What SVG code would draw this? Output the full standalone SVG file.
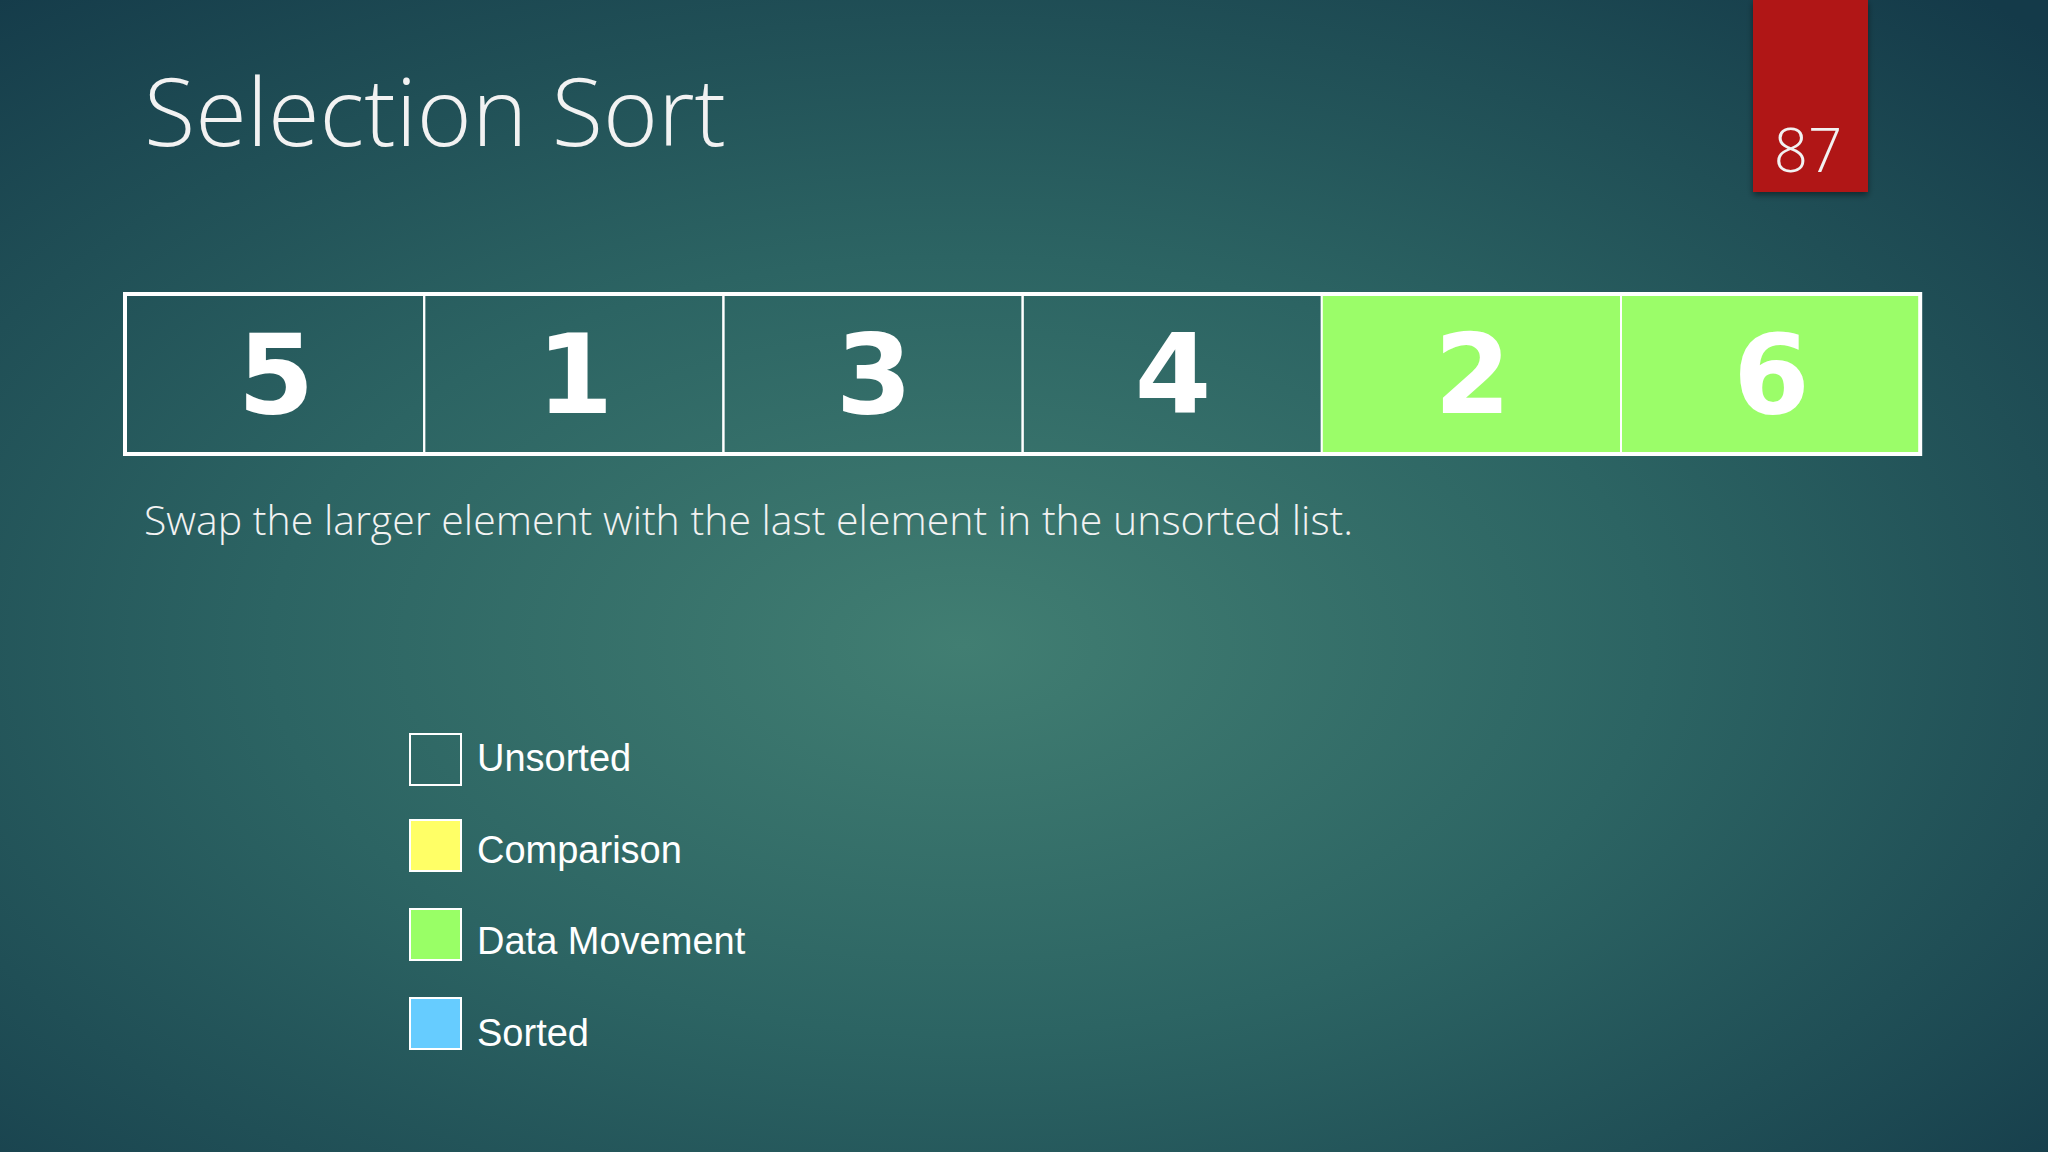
<svg xmlns="http://www.w3.org/2000/svg" width="2048" height="1152" viewBox="0 0 2048 1152">
  <defs>
    <radialGradient id="bg" cx="0.47" cy="0.56" r="0.75" fx="0.47" fy="0.56">
      <stop offset="0" stop-color="#417E72"/>
      <stop offset="0.45" stop-color="#2C6463"/>
      <stop offset="1" stop-color="#143A49"/>
    </radialGradient>
    <filter id="sh" x="-20%" y="-20%" width="140%" height="140%">
      <feDropShadow dx="0" dy="3" stdDeviation="3" flood-color="#000" flood-opacity="0.45"/>
    </filter>
    <style>
      .title { font-family: "Open Sans", "Liberation Sans", sans-serif; font-weight: 300; fill: #F2F2F2; }
      .num { font-family: "DejaVu Sans", "Liberation Sans", sans-serif; font-weight: bold; font-size: 110px; fill: #FFFFFF; text-anchor: middle; }
      .cell { stroke: #FFFFFF; stroke-width: 2; }
      .leg { font-family: "Liberation Sans", Arial, sans-serif; font-size: 38px; fill: #FFFFFF; }
      .lbox { stroke: #FFFFFF; stroke-width: 2; }
    </style>
  </defs>
  <rect x="0" y="0" width="2048" height="1152" fill="url(#bg)"/>

  <g id="title">
    <text class="title" x="144" y="146" font-size="94" textLength="582" lengthAdjust="spacingAndGlyphs">Selection Sort</text>
  </g>

  <g id="slide-number">
    <rect x="1753" y="0" width="115" height="192" fill="#B01616" filter="url(#sh)"/>
    <text class="title" x="1808" y="172" font-size="60" text-anchor="middle" fill="#FFFFFF">87</text>
  </g>

  <g id="array">
    <g id="cell-0"><rect class="cell" x="125" y="294" width="299.2" height="160" fill="none"/><text class="num" x="276" y="413">5</text></g>
    <g id="cell-1"><rect class="cell" x="424.2" y="294" width="299.2" height="160" fill="none"/><text class="num" x="575" y="413">1</text></g>
    <g id="cell-2"><rect class="cell" x="723.4" y="294" width="299.2" height="160" fill="none"/><text class="num" x="874" y="413">3</text></g>
    <g id="cell-3"><rect class="cell" x="1022.6" y="294" width="299.2" height="160" fill="none"/><text class="num" x="1173" y="413">4</text></g>
    <g id="cell-4"><rect class="cell" x="1321.8" y="294" width="299.2" height="160" fill="#9BFD69"/><text class="num" x="1472.5" y="413">2</text></g>
    <g id="cell-5"><rect class="cell" x="1621" y="294" width="299.2" height="160" fill="#9BFD69"/><text class="num" x="1771.5" y="413">6</text></g>
    <rect x="125" y="294" width="1795.2" height="160" fill="none" stroke="#FFFFFF" stroke-width="4"/>
  </g>

  <g id="caption">
    <text class="title" x="144" y="535" font-size="41" font-weight="400" textLength="1209" lengthAdjust="spacingAndGlyphs">Swap the larger element with the last element in the unsorted list.</text>
  </g>

  <g id="legend">
    <g id="legend-unsorted"><rect class="lbox" x="410" y="734" width="51" height="51" fill="none"/><text class="leg" x="477" y="771">Unsorted</text></g>
    <g id="legend-comparison"><rect class="lbox" x="410" y="820" width="51" height="51" fill="#FFFF66"/><text class="leg" x="477" y="863">Comparison</text></g>
    <g id="legend-data-movement"><rect class="lbox" x="410" y="909" width="51" height="51" fill="#99FF66"/><text class="leg" x="477" y="954">Data Movement</text></g>
    <g id="legend-sorted"><rect class="lbox" x="410" y="998" width="51" height="51" fill="#66CCFF"/><text class="leg" x="477" y="1046">Sorted</text></g>
  </g>
</svg>
